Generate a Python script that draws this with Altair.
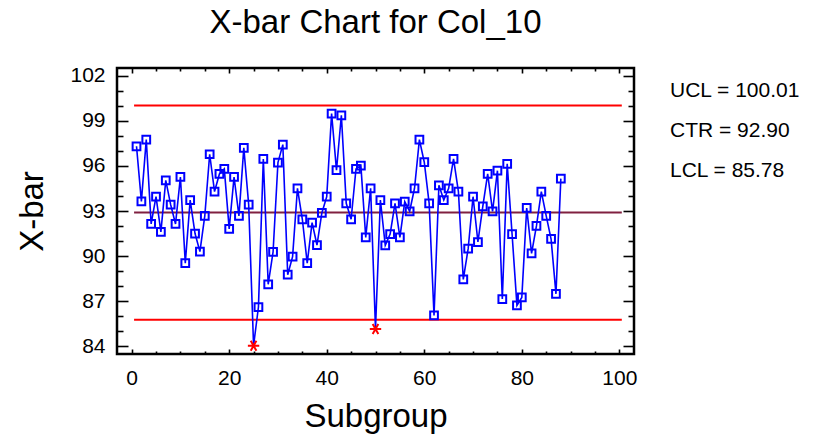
import altair as alt
import pandas as pd

# ---- data ----
subgroup = list(range(1, 89))
xbar = [97.30, 93.64, 97.74, 92.14, 93.95, 91.61, 95.04, 93.42, 92.14, 95.26,
        89.54, 93.73, 91.50, 90.30, 92.67, 96.77, 94.29, 95.46, 95.80, 91.81,
        95.26, 92.67, 97.19, 93.42, 84.05, 86.62, 96.46, 88.13, 90.28, 96.22,
        97.41, 88.77, 89.97, 94.51, 92.45, 89.54, 92.23, 90.74, 92.87, 93.95,
        99.47, 95.71, 99.36, 93.51, 92.45, 95.80, 96.02, 91.25, 94.51, 85.16,
        93.73, 90.72, 91.47, 93.51, 91.25, 93.62, 92.98, 94.51, 97.74, 96.24,
        93.51, 86.06, 94.71, 93.73, 94.51, 96.46, 94.29, 88.46, 90.50, 93.95,
        90.94, 93.31, 95.46, 92.98, 95.68, 87.15, 96.13, 91.47, 86.73, 87.26,
        93.20, 90.19, 92.01, 94.29, 92.67, 91.14, 87.49, 95.15]

limit_names = ["UCL", "CTR", "LCL"]
limit_values = [100.01, 92.90, 85.78]
limit_colors = ["#ff0000", "#802040", "#ff0000"]
limit_start = [0.5, 0.5, 0.5]
limit_end = [100.5, 100.5, 100.5]

x_major = [0, 20, 40, 60, 80, 100]
x_minor = [v for v in range(0, 101, 5) if v not in x_major]
y_major = [84, 87, 90, 93, 96, 99, 102]
y_minor = [v for v in range(84, 103) if v not in y_major]

title_text = ["X-bar Chart for Col_10"]
x_title = "Subgroup"
y_title = "X-bar"

W, H = 517, 286
FONT = "Liberation Sans"
UCL, LCL = limit_values[0], limit_values[2]

df = pd.DataFrame({"sub": subgroup, "xbar": xbar})
lim = pd.DataFrame({"name": limit_names, "value": limit_values,
                    "x0": limit_start, "x1": limit_end})

xs = alt.Scale(domain=[-3, 103], nice=False, zero=False)
ys = alt.Scale(domain=[83.5, 102.5], nice=False, zero=False)

main_x_axis = alt.Axis(values=x_major, ticks=False, tickSize=0, domain=False, grid=False,
                       labelPadding=13, labelFontSize=21, labelFont=FONT, labelColor="black",
                       title=x_title, titleFontSize=33, titleFont=FONT, titleFontWeight="normal",
                       titleColor="black", titleX=W / 2, titleY=72, titleBaseline="alphabetic",
                       titleAlign="center", labelFlush=False)
main_y_axis = alt.Axis(values=y_major, ticks=False, tickSize=0, domain=False, grid=False,
                       labelPadding=12, labelFontSize=21, labelFont=FONT, labelColor="black",
                       title=y_title, titleFontSize=33, titleFont=FONT, titleFontWeight="normal",
                       titleColor="black", titleX=-75, titleY=H / 2, titleBaseline="alphabetic",
                       titleAlign="center", titleAngle=-90)

rules = alt.Chart(lim).mark_rule(strokeWidth=2).encode(
    x=alt.X("x0:Q", scale=xs, axis=None),
    x2="x1:Q",
    y=alt.Y("value:Q", scale=ys, axis=None),
    color=alt.Color("name:N", scale=alt.Scale(domain=limit_names, range=limit_colors), legend=None),
)

line = alt.Chart(df).mark_line(color="#0000ff", strokeWidth=1.6).encode(
    x=alt.X("sub:Q", scale=xs, axis=main_x_axis),
    y=alt.Y("xbar:Q", scale=ys, axis=main_y_axis),
)

squares = alt.Chart(df).transform_filter(
    (alt.datum.xbar >= LCL) & (alt.datum.xbar <= UCL)
).mark_point(shape="square", filled=False, color="#0000ff", size=60, strokeWidth=2, opacity=1).encode(
    x=alt.X("sub:Q", scale=xs, axis=None),
    y=alt.Y("xbar:Q", scale=ys, axis=None),
)

star_path = "M-1,0L1,0M-0.5,-0.866L0.5,0.866M-0.5,0.866L0.5,-0.866"
stars = alt.Chart(df).transform_filter(
    (alt.datum.xbar < LCL) | (alt.datum.xbar > UCL)
).mark_point(shape=star_path, filled=False, color="#ff0000", size=130, strokeWidth=2, opacity=1).encode(
    x=alt.X("sub:Q", scale=xs, axis=None),
    y=alt.Y("xbar:Q", scale=ys, axis=None),
)


def tick_layer(orient, values, size):
    ax = alt.Axis(orient=orient, values=values, labels=False, domain=False, grid=False,
                  ticks=True, tickSize=size, offset=-size, tickColor="black", tickWidth=1.6,
                  title=None)
    if orient in ("left", "right"):
        enc = dict(x=alt.X("sub:Q", scale=xs, axis=None), y=alt.Y("xbar:Q", scale=ys, axis=ax))
    else:
        enc = dict(x=alt.X("sub:Q", scale=xs, axis=ax), y=alt.Y("xbar:Q", scale=ys, axis=None))
    return alt.Chart(df).mark_point(opacity=0).encode(**enc)


tick_layers = [
    tick_layer("left", y_major, 11), tick_layer("left", y_minor, 6),
    tick_layer("right", y_major, 11), tick_layer("right", y_minor, 6),
    tick_layer("bottom", x_major, 5), tick_layer("bottom", x_minor, 3),
    tick_layer("top", x_major, 5), tick_layer("top", x_minor, 3),
]

label_layers = []
for i, (n, v) in enumerate(zip(limit_names, limit_values)):
    label_layers.append(
        alt.Chart(pd.DataFrame({"label": [f"{n} = {v:.2f}"]})).mark_text(
            align="left", baseline="middle", fontSize=21, font=FONT, color="black"
        ).encode(text="label:N", x=alt.value(553), y=alt.value(23 + 40 * i))
    )

title_layer = alt.Chart(pd.DataFrame({"t": title_text})).mark_text(
    align="center", baseline="alphabetic", fontSize=33, font=FONT, color="black"
).encode(text="t:N", x=alt.value(W / 2), y=alt.value(-35))

chart = alt.layer(rules, line, squares, stars, *tick_layers, *label_layers, title_layer).resolve_axis(
    x="independent", y="independent"
).properties(
    width=W, height=H,
    padding={"left": 117, "top": 68, "right": 180, "bottom": 83},
    autosize=alt.AutoSizeParams(type="none"),
    background="white",
).configure_view(stroke="black", strokeWidth=2.5)

chart.save("out.html", embed_options={"renderer": "svg", "actions": False})
